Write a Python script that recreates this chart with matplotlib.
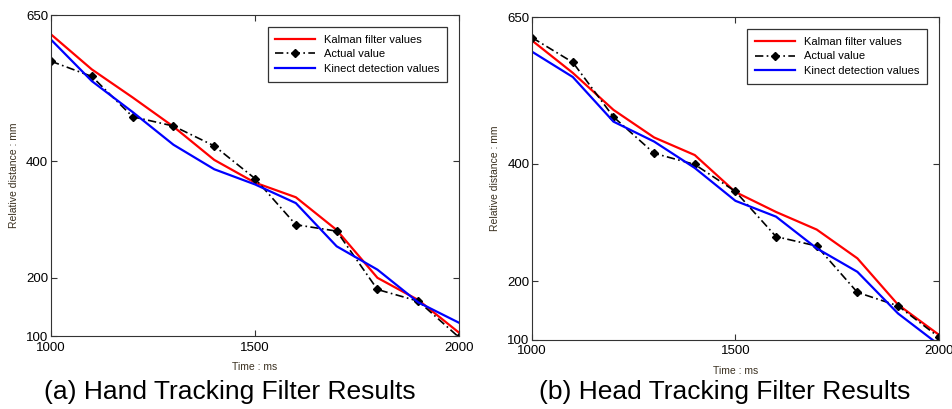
import matplotlib
matplotlib.use("Agg")
import matplotlib.pyplot as plt

plt.rcParams['font.family'] = ['Liberation Sans', 'DejaVu Sans']

t = [1000, 1100, 1200, 1300, 1400, 1500, 1600, 1700, 1800, 1900, 2000]

# (a) hand tracking
hand_kalman = [617, 557, 509, 459, 402, 363, 338, 282, 200, 162, 106]
hand_actual = [571, 545, 476, 460, 426, 370, 291, 280, 180, 160, 98]
hand_kinect = [608, 537, 484, 428, 386, 360, 328, 254, 214, 158, 123]

# (b) head tracking
head_kalman = [610, 555, 492, 445, 415, 352, 318, 288, 239, 160, 109]
head_actual = [615, 573, 480, 418, 399, 353, 276, 260, 181, 158, 105]
head_kinect = [591, 548, 472, 438, 393, 337, 310, 256, 216, 145, 92]

yticks = [100, 200, 400, 650]
xticks = [1000, 1500, 2000]
captions = ["(a) Hand Tracking Filter Results", "(b) Head Tracking Filter Results"]

fig = plt.figure(figsize=(9.52, 4.09), dpi=100)
ax1 = fig.add_axes([0.0536, 0.178, 0.4286, 0.785])
ax2 = fig.add_axes([0.559, 0.169, 0.427, 0.789])

panels = [(ax1, hand_kalman, hand_actual, hand_kinect),
          (ax2, head_kalman, head_actual, head_kinect)]

for i, (ax, kal, act, kin) in enumerate(panels):
    ax.plot(t, kal, color='#ff0000', lw=1.6, label='Kalman filter values')
    ax.plot(t, act, color='black', lw=1.2, ls=(0, (5, 2, 1, 2)), marker='D', ms=4,
            label='Actual value')
    ax.plot(t, kin, color='#0000ff', lw=1.6, label='Kinect detection values')
    ax.set_xlim(1000, 2000)
    ax.set_ylim(100, 650)
    ax.set_xticks(xticks)
    ax.set_yticks(yticks)
    ax.tick_params(direction='in', top=True, right=True, labelsize=9.5,
                   length=4, color='#333333', pad=2)
    ax.tick_params(axis='x', pad=4)
    for s in ax.spines.values():
        s.set_color('#333333')
        s.set_linewidth(0.8)
    ax.set_xlabel('Time : ms', fontsize=7.5, color='#3a3020', labelpad=6)
    ax.set_ylabel('Relative distance : mm', fontsize=7.5, color='#3a3020', labelpad=5)
    leg = ax.legend(loc='upper right', fontsize=8, handlelength=3.6,
                    borderpad=0.7, labelspacing=0.4, fancybox=False,
                    framealpha=1, bbox_to_anchor=(0.985, 0.98))
    leg.get_frame().set_edgecolor('#333333')
    leg.get_frame().set_linewidth(0.9)

fig.text(0.241, 0.041, captions[0], fontsize=19, ha='center', va='center')
fig.text(0.761, 0.041, captions[1], fontsize=19, ha='center', va='center')

fig.savefig('out.png', dpi=100)
